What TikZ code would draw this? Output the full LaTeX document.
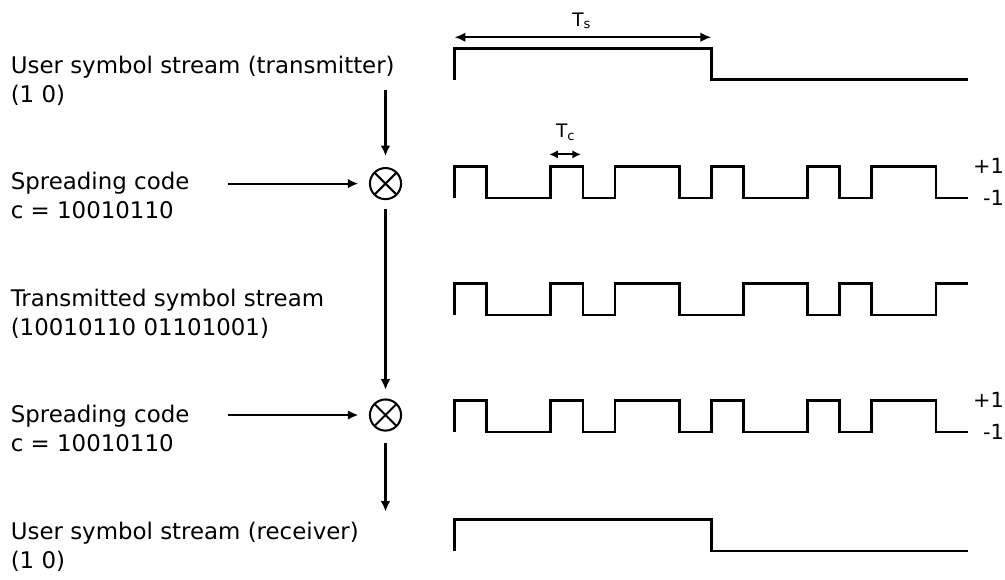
\documentclass[tikz,border=0pt]{standalone}
\usepackage{fontspec}
\setmainfont{DejaVu Sans}
\usepackage{tikz}
\usetikzlibrary{arrows.meta, positioning}

\begin{document}
\begin{tikzpicture}[
    wave/.style={line width=2.4pt},
    arr/.style={line width=1.9pt, -{Latex[length=3.3mm,width=3mm]}},
    dimarr/.style={line width=1.8pt, {Latex[length=3.4mm,width=3mm]}-{Latex[length=3.4mm,width=3mm]}},
    lab/.style={anchor=base west, align=left, inner sep=0pt,
                font=\fontsize{20.3}{25.4}\selectfont},
    tlab/.style={anchor=base, inner sep=0pt, font=\fontsize{16.5}{19}\selectfont},
    lvl/.style={anchor=east, inner sep=0pt, font=\fontsize{18.5}{22}\selectfont},
    mult/.style={circle, draw, line width=1.8pt, minimum size=9.7mm,
                 inner sep=0pt, outer sep=0pt}]
  \useasboundingbox (0,0) rectangle (31.31,-18.04);

  % labels on the left (base = last line)
  \node[lab] (utx) at (0.33,-3.19) {User symbol stream (transmitter)\\(1 0)};
  \node[lab] (sc1) at (0.33,-6.80) {Spreading code\\c = 10010110};
  \node[lab] (tx)  at (0.33,-10.44) {Transmitted symbol stream\\(10010110 01101001)};
  \node[lab] (sc2) at (0.33,-14.07) {Spreading code\\c = 10010110};
  \node[lab] (urx) at (0.33,-17.70) {User symbol stream (receiver)\\(1 0)};

  % multipliers
  \node[mult] (m1) at (12.01,-5.72) {};
  \node[mult] (m2) at (12.01,-12.93) {};
  \foreach \m in {m1,m2}
    \draw[line width=1.8pt] (\m.north west) -- (\m.south east)
                            (\m.north east) -- (\m.south west);

  % signal flow
  \coordinate (in0) at (12.01,-2.80);
  \coordinate (cin1) at (7.10,-5.72);
  \coordinate (cin2) at (7.10,-12.93);
  \coordinate (out0) at (12.01,-15.94);
  \draw[arr, shorten >=0.37cm] (in0) -- (m1);
  \draw[arr, shorten >=0.36cm] (cin1) -- (m1);
  \draw[arr, shorten <=0.31cm, shorten >=0.30cm] (m1) -- (m2);
  \draw[arr, shorten >=0.36cm] (cin2) -- (m2);
  \draw[arr, shorten <=0.39cm] (m2) -- (out0);

  % waveforms, one chip = 1 unit
  \draw[wave] (14.16,-2.48) -- ++(0,0.98) -- ++(8,0) -- ++(0,-0.98) -- ++(8,0);
  \foreach \y/\bits in {-6.17/{1,0,0,1,0,1,1,0,1,0,0,1,0,1,1,0},
                        -9.81/{1,0,0,1,0,1,1,0,0,1,1,0,1,0,0,1},
                        -13.46/{1,0,0,1,0,1,1,0,1,0,0,1,0,1,1,0}}
    \draw[wave] (14.16,\y) \foreach \b [count=\i from 0] in \bits
      { -- ({14.16+\i},{\y+0.98*\b}) -- ({15.16+\i},{\y+0.98*\b}) };
  \draw[wave] (14.16,-17.17) -- ++(0,0.98) -- ++(8,0) -- ++(0,-0.98) -- ++(8,0);

  % levels
  \foreach \y [count=\k] in {-6.17,-13.46} {
    \node[lvl] (hi\k) at (31.28,\y+1.01) {+1};
    \node[lvl] (lo\k) at (31.28,\y+0.02) {-1};
  }

  % symbol and chip durations
  \coordinate (ts0) at (14.16,-1.16);
  \coordinate (ts1) at (22.16,-1.16);
  \draw[dimarr] (ts0) -- (ts1);
  \node[tlab] (ts) at (18.12,-0.81) {T\textsubscript{s}};
  \coordinate (tc0) at (17.11,-4.81);
  \coordinate (tc1) at (18.10,-4.81);
  \draw[dimarr, {Latex[length=2.7mm,width=2.6mm]}-{Latex[length=2.7mm,width=2.6mm]}] (tc0) -- (tc1);
  \node[tlab] (tc) at (17.62,-4.28) {T\textsubscript{c}};
\end{tikzpicture}
\end{document}
